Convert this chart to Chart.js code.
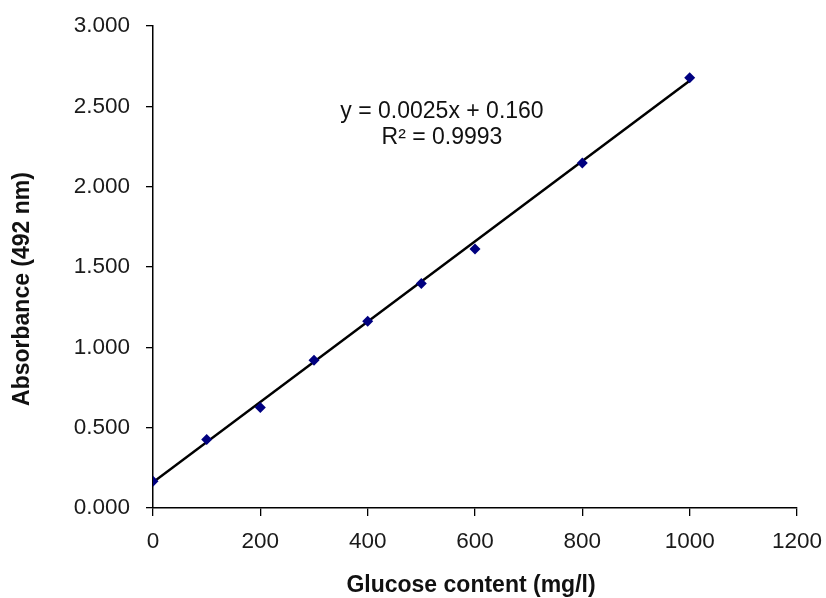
<!DOCTYPE html>
<html>
<head>
<meta charset="utf-8">
<script src="https://cdn.jsdelivr.net/npm/chart.js@4.4.1/dist/chart.umd.min.js"></script>
<style>
  html, body { margin: 0; padding: 0; background: #fff; }
  #wrap { width: 826px; height: 598px; }
</style>
</head>
<body>
<div id="wrap"><canvas id="c" width="826" height="598"></canvas></div>
<script>
// Data
const glucose = [0, 100, 200, 300, 400, 500, 600, 800, 1000];
const absorbance = [0.166, 0.427, 0.626, 0.920, 1.162, 1.397, 1.612, 2.148, 2.678];
const trendX = [0, 1000];
const trendY = [0.160, 2.660];
const equationText = ['y = 0.0025x + 0.160', 'R\u00B2 = 0.9993'];
const xTitle = 'Glucose content (mg/l)';
const yTitle = 'Absorbance (492 nm)';

const FONT = '"Liberation Sans", Arial, sans-serif';

const textPlugin = {
  id: 'textPlugin',
  afterDraw(chart) {
    const ctx = chart.ctx;
    ctx.save();
    ctx.fillStyle = '#111';
    ctx.textAlign = 'center';
    ctx.textBaseline = 'middle';
    ctx.font = '23px ' + FONT;
    ctx.fillText(equationText[0], 442, 112);
    ctx.fillText(equationText[1], 442, 138);
    ctx.font = 'bold 23px ' + FONT;
    ctx.fillText(xTitle, 471, 586);
    ctx.translate(23, 289);
    ctx.rotate(-Math.PI / 2);
    ctx.fillText(yTitle, 0, 0);
    ctx.restore();
  }
};

new Chart(document.getElementById('c'), {
  type: 'scatter',
  data: {
    datasets: [
      {
        label: 'Absorbance',
        data: glucose.map((x, i) => ({ x: x, y: absorbance[i] })),
        pointStyle: 'rectRot',
        pointRadius: 5.5,
        backgroundColor: '#000080',
        borderColor: '#000080',
        borderWidth: 0,
        order: 0
      },
      {
        type: 'line',
        label: 'Linear',
        data: trendX.map((x, i) => ({ x: x, y: trendY[i] })),
        borderColor: '#000',
        borderWidth: 2.5,
        pointRadius: 0,
        fill: false,
        order: 1
      }
    ]
  },
  options: {
    responsive: false,
    animation: false,
    devicePixelRatio: 1,
    layout: { padding: { left: 0, right: 29, top: 26, bottom: 0 } },
    plugins: { legend: { display: false }, tooltip: { enabled: false } },
    scales: {
      x: {
        type: 'linear',
        min: 0, max: 1200,
        afterFit(scale) {
          scale.height = 90;
          scale.paddingLeft = 0; scale.paddingRight = 0;
        },
        ticks: {
          stepSize: 200,
          padding: 12,
          color: '#1a1a1a',
          font: { family: FONT, size: 22.5 },
          maxRotation: 0,
          callback: v => String(v)
        },
        grid: { display: true, drawOnChartArea: false, drawTicks: true, tickLength: 8, color: '#000', lineWidth: 1.3 },
        border: { display: true, color: '#000', width: 1.5 }
      },
      y: {
        type: 'linear',
        min: 0, max: 3,
        afterFit(scale) {
          scale.width = 153;
          scale.paddingTop = 0; scale.paddingBottom = 0;
        },
        ticks: {
          stepSize: 0.5,
          padding: 16,
          color: '#1a1a1a',
          font: { family: FONT, size: 22.5 },
          callback: v => Number(v).toFixed(3)
        },
        grid: { display: true, drawOnChartArea: false, drawTicks: true, tickLength: 7, color: '#000', lineWidth: 1.3 },
        border: { display: true, color: '#000', width: 1.5 }
      }
    }
  },
  plugins: [textPlugin]
});
</script>
</body>
</html>
